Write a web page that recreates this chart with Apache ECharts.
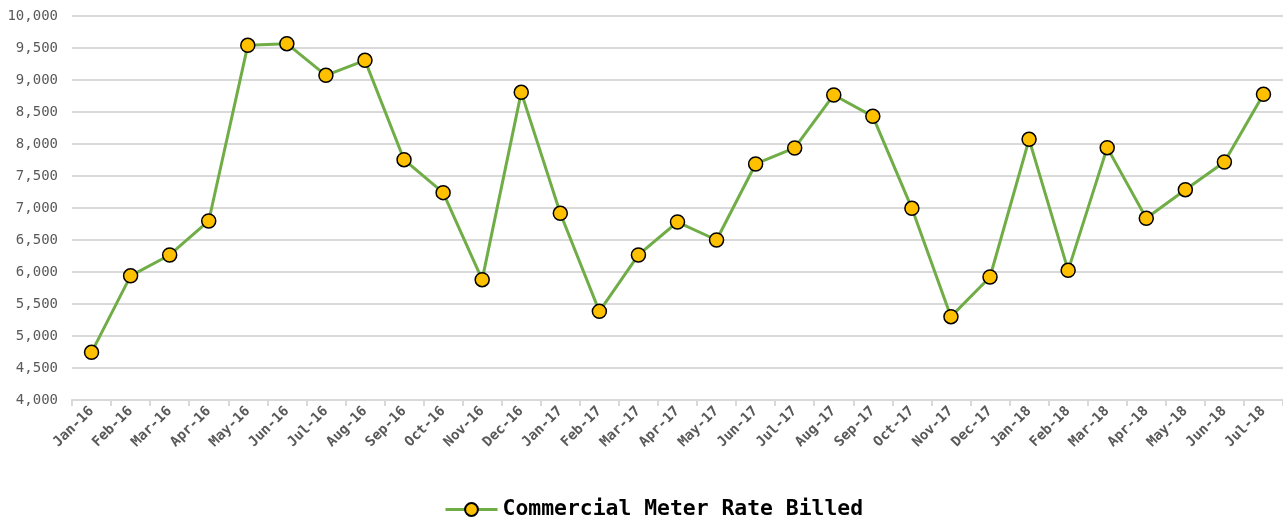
<!DOCTYPE html>
<html>
<head>
<meta charset="utf-8">
<script src="https://cdn.jsdelivr.net/npm/echarts@6/dist/echarts.min.js"></script>
<style>html,body{margin:0;padding:0;background:#fff}#c{width:1283px;height:520px}</style>
</head>
<body>
<div id="c"></div>
<script>
const categories = ["Jan-16","Feb-16","Mar-16","Apr-16","May-16","Jun-16","Jul-16","Aug-16","Sep-16","Oct-16","Nov-16","Dec-16",
  "Jan-17","Feb-17","Mar-17","Apr-17","May-17","Jun-17","Jul-17","Aug-17","Sep-17","Oct-17","Nov-17","Dec-17",
  "Jan-18","Feb-18","Mar-18","Apr-18","May-18","Jun-18","Jul-18"];
const seriesName = "Commercial Meter Rate Billed";
const values = [4745,5940,6266,6797,9542,9568,9073,9307,7755,7240,5880,8807,
  6917,5385,6266,6781,6500,7688,7938,8766,8432,6995,5302,5922,
  8073,6026,7943,6839,7286,7719,8776];
const yMin = 4000, yMax = 10000, yStep = 500;

const chart = echarts.init(document.getElementById('c'));
const mono = '"DejaVu Sans Mono", "Liberation Mono", monospace';
chart.setOption({
  animation: false,
  grid: { left: 72, right: 0, top: 16, bottom: 120, containLabel: false },
  legend: {
    top: 494, left: 439,
    itemWidth: 52, itemHeight: 16, itemGap: 10,
    lineStyle: { width: 3, color: '#70ad47' },
    textStyle: { fontFamily: mono, fontSize: 21.4, fontWeight: 'bold', color: '#000' },
    data: [seriesName]
  },
  xAxis: {
    type: 'category', data: categories, boundaryGap: true,
    axisLine: { lineStyle: { color: '#d9d9d9', width: 2 } },
    axisTick: { show: true, length: 6, lineStyle: { color: '#d9d9d9', width: 2 } },
    axisLabel: { rotate: 45, interval: 0, fontFamily: mono, fontSize: 14, fontWeight: 'bold', color: '#595959', margin: 9 }
  },
  yAxis: {
    type: 'value', min: yMin, max: yMax, interval: yStep,
    axisLine: { show: false }, axisTick: { show: false },
    splitLine: { lineStyle: { color: '#d9d9d9', width: 2 } },
    axisLabel: {
      fontFamily: mono, fontSize: 14, color: '#595959', margin: 14,
      formatter: v => v.toLocaleString('en-US')
    }
  },
  series: [{
    name: seriesName, type: 'line', data: values,
    symbol: 'circle', symbolSize: 14,
    lineStyle: { color: '#70ad47', width: 3 },
    itemStyle: { color: '#ffc000', borderColor: '#000', borderWidth: 1.5 }
  }]
});
</script>
</body>
</html>
